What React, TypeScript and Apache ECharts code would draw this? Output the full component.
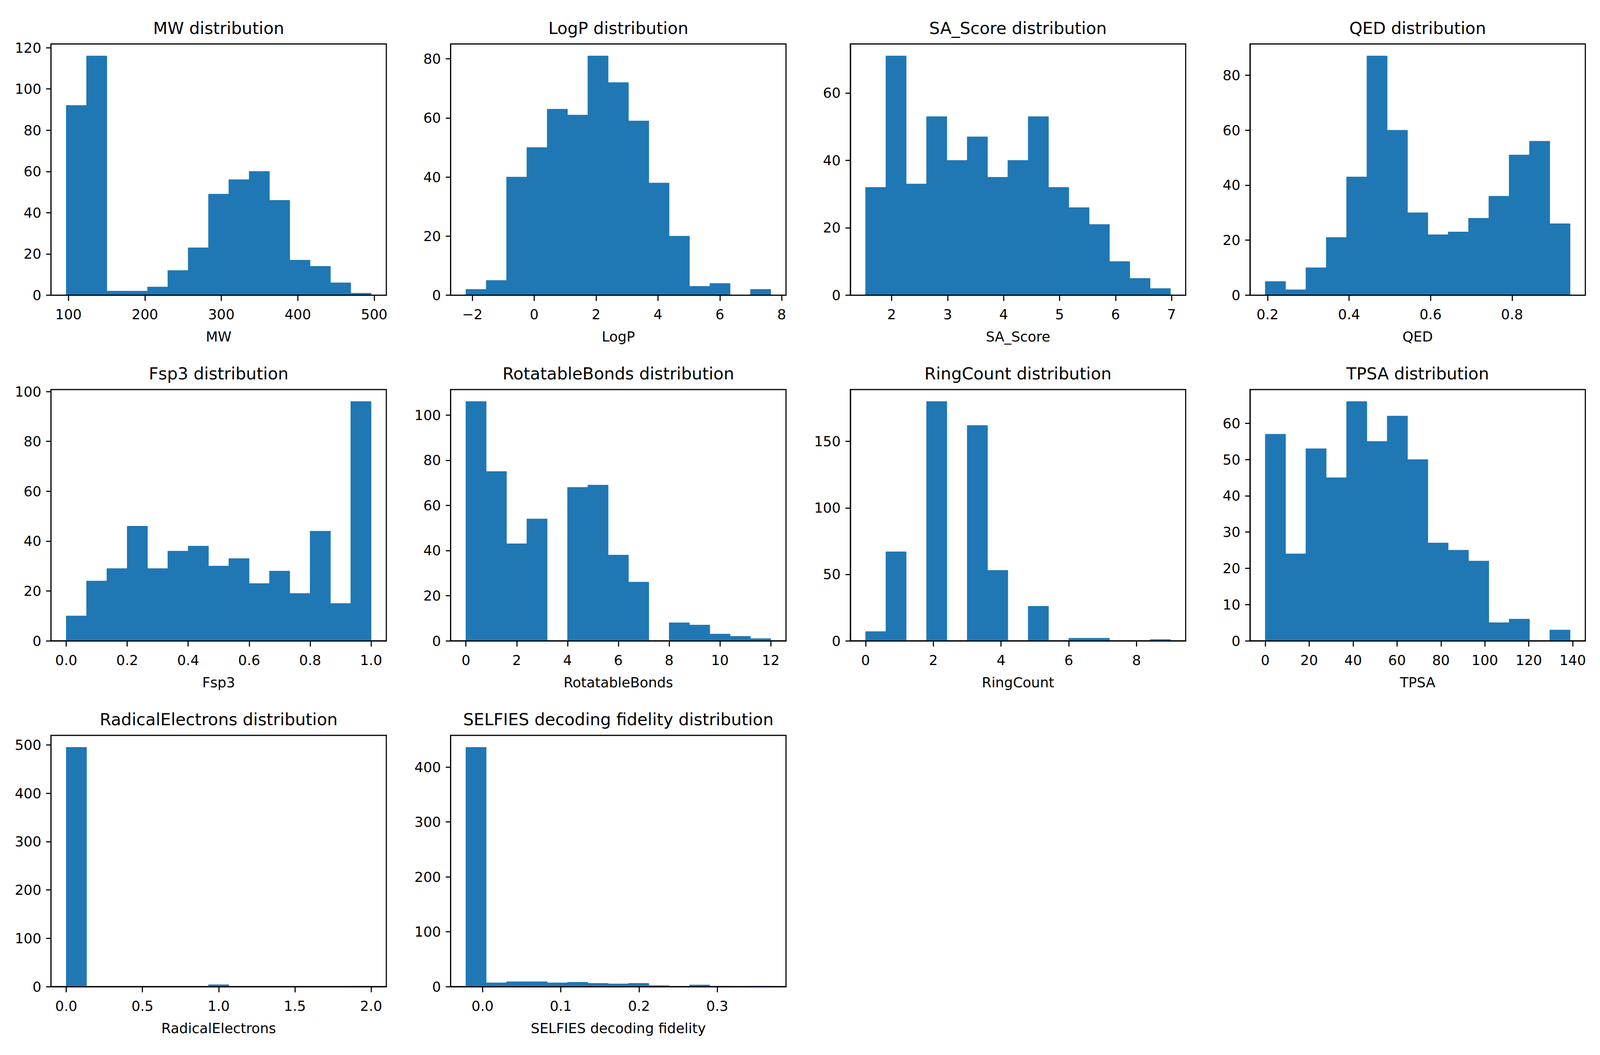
import React, { useEffect, useRef } from 'react';
import * as echarts from 'echarts';

// ---------------- data ----------------
const MW_COUNTS = [92, 116, 2, 2, 4, 12, 23, 49, 56, 60, 46, 17, 14, 6, 1];
const MW_RANGE = [97.1, 495.9];
const MW_X_TICKS = ['100', '200', '300', '400', '500'];
const MW_Y_TICKS = ['0', '20', '40', '60', '80', '100', '120'];

const LOGP_COUNTS = [2, 5, 40, 50, 63, 61, 81, 72, 59, 38, 20, 3, 4, 0, 2];
const LOGP_RANGE = [-2.209, 7.646];
const LOGP_X_TICKS = ['\u22122', '0', '2', '4', '6', '8'];
const LOGP_Y_TICKS = ['0', '20', '40', '60', '80'];

const SA_COUNTS = [32, 71, 33, 53, 40, 47, 35, 40, 53, 32, 26, 21, 10, 5, 2];
const SA_RANGE = [1.534, 6.98];
const SA_X_TICKS = ['2', '3', '4', '5', '6', '7'];
const SA_Y_TICKS = ['0', '20', '40', '60'];

const QED_COUNTS = [5, 2, 10, 21, 43, 87, 60, 30, 22, 23, 28, 36, 51, 56, 26];
const QED_RANGE = [0.1943, 0.9424];
const QED_X_TICKS = ['0.2', '0.4', '0.6', '0.8'];
const QED_Y_TICKS = ['0', '20', '40', '60', '80'];

const FSP3_COUNTS = [10, 24, 29, 46, 29, 36, 38, 30, 33, 23, 28, 19, 44, 15, 96];
const FSP3_RANGE = [0, 1];
const FSP3_X_TICKS = ['0.0', '0.2', '0.4', '0.6', '0.8', '1.0'];
const FSP3_Y_TICKS = ['0', '20', '40', '60', '80', '100'];

const ROT_COUNTS = [106, 75, 43, 54, 0, 68, 69, 38, 26, 0, 8, 7, 3, 2, 1];
const ROT_RANGE = [0, 12];
const ROT_X_TICKS = ['0', '2', '4', '6', '8', '10', '12'];
const ROT_Y_TICKS = ['0', '20', '40', '60', '80', '100'];

const RING_COUNTS = [7, 67, 0, 180, 0, 162, 53, 0, 26, 0, 2, 2, 0, 0, 1];
const RING_RANGE = [0, 9];
const RING_X_TICKS = ['0', '2', '4', '6', '8'];
const RING_Y_TICKS = ['0', '50', '100', '150'];

const TPSA_COUNTS = [57, 24, 53, 45, 66, 55, 62, 50, 27, 25, 22, 5, 6, 0, 3];
const TPSA_RANGE = [0, 138.8];
const TPSA_X_TICKS = ['0', '20', '40', '60', '80', '100', '120', '140'];
const TPSA_Y_TICKS = ['0', '10', '20', '30', '40', '50', '60'];

const RAD_COUNTS = [495, 0, 0, 0, 0, 0, 0, 4, 0, 0, 0, 0, 0, 0, 1];
const RAD_RANGE = [0, 2];
const RAD_X_TICKS = ['0.0', '0.5', '1.0', '1.5', '2.0'];
const RAD_Y_TICKS = ['0', '100', '200', '300', '400', '500'];

const SELF_COUNTS = [436, 7, 9, 9, 7, 8, 6, 5, 6, 2, 0, 3, 1, 0, 1];
const SELF_RANGE = [-0.0213, 0.3684];
const SELF_X_TICKS = ['0.0', '0.1', '0.2', '0.3'];
const SELF_Y_TICKS = ['0', '100', '200', '300', '400'];

const PANELS = [
  { name: 'MW', counts: MW_COUNTS, range: MW_RANGE, xt: MW_X_TICKS, yt: MW_Y_TICKS },
  { name: 'LogP', counts: LOGP_COUNTS, range: LOGP_RANGE, xt: LOGP_X_TICKS, yt: LOGP_Y_TICKS },
  { name: 'SA_Score', counts: SA_COUNTS, range: SA_RANGE, xt: SA_X_TICKS, yt: SA_Y_TICKS },
  { name: 'QED', counts: QED_COUNTS, range: QED_RANGE, xt: QED_X_TICKS, yt: QED_Y_TICKS },
  { name: 'Fsp3', counts: FSP3_COUNTS, range: FSP3_RANGE, xt: FSP3_X_TICKS, yt: FSP3_Y_TICKS },
  { name: 'RotatableBonds', counts: ROT_COUNTS, range: ROT_RANGE, xt: ROT_X_TICKS, yt: ROT_Y_TICKS },
  { name: 'RingCount', counts: RING_COUNTS, range: RING_RANGE, xt: RING_X_TICKS, yt: RING_Y_TICKS },
  { name: 'TPSA', counts: TPSA_COUNTS, range: TPSA_RANGE, xt: TPSA_X_TICKS, yt: TPSA_Y_TICKS },
  { name: 'RadicalElectrons', counts: RAD_COUNTS, range: RAD_RANGE, xt: RAD_X_TICKS, yt: RAD_Y_TICKS },
  { name: 'SELFIES decoding fidelity', counts: SELF_COUNTS, range: SELF_RANGE, xt: SELF_X_TICKS, yt: SELF_Y_TICKS },
];

// ---------------- layout / style (reference frame 4800 x 2700) ----------------
const REF_W = 4800;
const REF_H = 2700;
const COL_LEFT = [153, 1352, 2551, 3750];
const AX_W = 1006;
const ROW_TOP = [112.5, 997, 1882];
const AX_H = 643;
const FONT = 'DejaVu Sans';
const FS = 41.67;
const TITLE_FS = 50;
const LW = 3.33;
const TICK_LEN = 14.6;
const BAR = '#1f77b4';
// reference distances (px) from the axis line to the centre of the texts
const XTICK_CENTER = 49;
const XNAME_CENTER = 106;
const YTICK_GAP = 29;
const TITLE_CENTER = 41;

const toNum = (s: string) => parseFloat(s.replace('\u2212', '-'));
const makeFormatter = (labels: string[]) => {
  const vals = labels.map(toNum);
  return (v: number) => {
    const i = vals.findIndex((t) => Math.abs(t - v) < 1e-7 * Math.max(1, Math.abs(t)));
    return i >= 0 ? labels[i] : '';
  };
};

function buildOption(vw: number, vh: number) {
  const sx = vw / REF_W;
  const sy = vh / REF_H;
  const sf = Math.min(sx, sy);
  const grids: any[] = [];
  const xAxes: any[] = [];
  const yAxes: any[] = [];
  const series: any[] = [];
  const titles: any[] = [];
  const fs = FS * sf;
  const tfs = TITLE_FS * sf;
  const lw = Math.max(1, LW * sf);

  PANELS.forEach((p, i) => {
    const col = i % 4;
    const row = Math.floor(i / 4);
    const left = COL_LEFT[col] * sx;
    const top = ROW_TOP[row] * sy;
    const aw = AX_W * sx;
    const ah = AX_H * sy;
    const [lo, hi] = p.range;
    const n = p.counts.length;
    const bw = (hi - lo) / n;
    const span = hi - lo;
    const xmin = lo - 0.05 * span;
    const xmax = hi + 0.05 * span;
    const ymax = 1.05 * Math.max(...p.counts);
    const xv = p.xt.map(toNum);
    const yv = p.yt.map(toNum);

    grids.push({
      left,
      top,
      width: aw,
      height: ah,
      show: true,
      borderColor: '#000',
      borderWidth: lw,
      backgroundColor: 'transparent',
      containLabel: false,
    });

    xAxes.push({
      type: 'value',
      gridIndex: i,
      min: xmin,
      max: xmax,
      z: 5,
      splitLine: { show: false },
      axisLine: { show: true, onZero: false, lineStyle: { color: '#000', width: lw } },
      axisTick: { show: true, length: TICK_LEN * sy, customValues: xv, lineStyle: { color: '#000', width: lw } },
      axisLabel: {
        customValues: xv,
        formatter: makeFormatter(p.xt),
        margin: XTICK_CENTER * sy - fs / 2,
        fontSize: fs,
        fontFamily: FONT,
        color: '#000',
      },
      name: p.name,
      nameLocation: 'middle',
      nameGap: XNAME_CENTER * sy - fs / 2,
      nameTextStyle: { fontSize: fs, fontFamily: FONT, color: '#000' },
    });

    yAxes.push({
      type: 'value',
      gridIndex: i,
      min: 0,
      max: ymax,
      z: 5,
      splitLine: { show: false },
      axisLine: { show: true, onZero: false, lineStyle: { color: '#000', width: lw } },
      axisTick: { show: true, length: TICK_LEN * sx, customValues: yv, lineStyle: { color: '#000', width: lw } },
      axisLabel: {
        customValues: yv,
        formatter: makeFormatter(p.yt),
        margin: YTICK_GAP * sx,
        fontSize: fs,
        fontFamily: FONT,
        color: '#000',
      },
    });

    const data = p.counts.map((c, k) => [lo + k * bw, lo + (k + 1) * bw, c]);
    series.push({
      type: 'custom',
      xAxisIndex: i,
      yAxisIndex: i,
      coordinateSystem: 'cartesian2d',
      encode: { x: [0, 1], y: 2 },
      data,
      z: 2,
      clip: false,
      renderItem: (params: any, api: any) => {
        const a = api.coord([api.value(0), api.value(2)]);
        const b = api.coord([api.value(1), 0]);
        return {
          type: 'rect',
          shape: { x: a[0], y: a[1], width: b[0] - a[0], height: b[1] - a[1] },
          style: { fill: BAR, stroke: BAR, lineWidth: b[1] - a[1] > 0.5 ? 1 : 0 },
        };
      },
    });

    titles.push({
      text: `${p.name} distribution`,
      left: left + aw / 2,
      top: top - TITLE_CENTER * sy - tfs / 2,
      textAlign: 'center',
      padding: 0,
      textStyle: { fontSize: tfs, fontWeight: 'normal', fontFamily: FONT, color: '#000' },
    });
  });

  return {
    animation: false,
    backgroundColor: '#ffffff',
    title: titles,
    grid: grids,
    xAxis: xAxes,
    yAxis: yAxes,
    series,
  };
}

export default function App() {
  const ref = useRef<HTMLDivElement>(null);
  useEffect(() => {
    const el = ref.current;
    if (!el) return;
    const vw = el.clientWidth || window.innerWidth || REF_W;
    const vh = el.clientHeight || window.innerHeight || REF_H;
    const chart = echarts.init(el, undefined, { renderer: 'svg', width: vw, height: vh });
    chart.setOption(buildOption(vw, vh) as any);
    return () => chart.dispose();
  }, []);
  return (
    <div
      ref={ref}
      style={{ position: 'fixed', left: 0, top: 0, width: '100vw', height: '100vh', background: '#fff' }}
    />
  );
}
